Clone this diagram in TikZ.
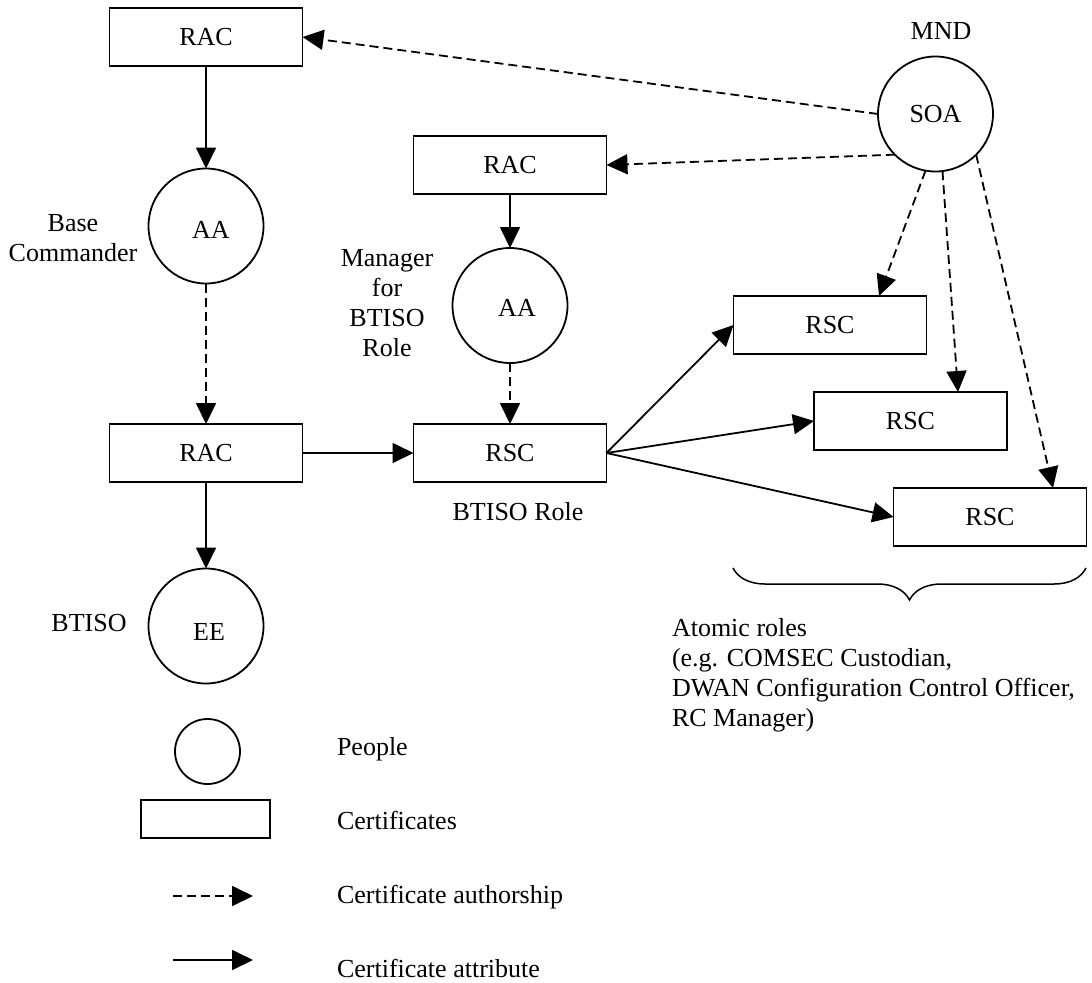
\documentclass[tikz,border=0pt]{standalone}
\usepackage{fontspec}
\setmainfont{Liberation Serif}
\usetikzlibrary{arrows.meta,decorations.pathreplacing}
\begin{document}
\begin{tikzpicture}[x=1bp,y=-1bp,
  every node/.style={font=\fontsize{26bp}{30bp}\selectfont, inner sep=0pt, outer sep=0pt},
  cert/.style={draw, line width=1.8bp, minimum width=193bp, minimum height=58bp},
  person/.style={draw, circle, line width=1.8bp, minimum size=115bp},
  attr/.style={line width=1.8bp, -{Triangle[length=21bp,width=20bp]}},
  auth/.style={attr, dash pattern=on 9bp off 5bp},
  lbl/.style={align=center}]
\useasboundingbox (0,0) rectangle (1092,983);

% left column
\node[cert] (rac1) at (206,37) {RAC};
\node[person, label={[xshift=5bp,yshift=-4bp]center:AA}] (aa1) at (206,226) {};
\node[cert] (rac3) at (206,453) {RAC};
\node[person, label={[xshift=3bp,yshift=-6bp]center:EE}] (ee) at (206,626) {};

% middle column
\node[cert] (rac2) at (510,165) {RAC};
\node[person, label={[xshift=7bp,yshift=-2.5bp]center:AA}] (aa2) at (510,305.5) {};
\node[cert] (rscb) at (510,453) {RSC};

% right
\node[person] (soa) at (935.5,114) {SOA};
\node[cert] (rsc1) at (830,325) {RSC};
\node[cert] (rsc2) at (910.5,421) {RSC};
\node[cert] (rsc3) at (990,517) {RSC};

% labels
\node (mnd) at (941,31) {MND};
\node[lbl, anchor=north] (basecmd) at (73,214) {Base\\Commander};
\node[lbl, anchor=north] (mgr) at (387,249) {Manager\\for\\BTISO\\Role};
\node (btiso) at (89,623) {BTISO};
\node (btisorole) at (518,512) {BTISO Role};
\node[align=left, anchor=north west] (atomic) at (672,618)
  {Atomic roles\\(e.g. COMSEC Custodian,\\DWAN Configuration Control Officer,\\RC Manager)};

% connectors
\draw[attr] (rac1.south) -- (aa1.north);
\draw[auth] (aa1.south) -- (rac3.north);
\draw[attr] (rac3.south) -- (ee.north);
\draw[attr] (rac3.east) -- (rscb.west);
\draw[attr] (rac2.south) -- (aa2.north);
\draw[auth] (aa2.south) -- (rscb.north);
\draw[auth] (soa.west) -- (rac1.east);
\draw[auth] (soa.225) -- (rac2.east);
\draw[auth] (soa.260) -- ([xshift=49bp]rsc1.north);
\draw[auth] (soa.277) -- ([xshift=47.5bp]rsc2.north);
\draw[auth] (soa.315) -- ([xshift=63bp]rsc3.north);
\draw[attr] (rscb.east) -- (rsc1.west);
\draw[attr] (rscb.east) -- (rsc2.west);
\draw[attr] (rscb.east) -- (rsc3.west);

% brace
\coordinate (bl) at (733,568);
\coordinate (br) at (1086,568);
\draw[decorate, decoration={brace, amplitude=32bp}, line width=1.5bp] (br) -- (bl);

% legend
\node[draw, circle, line width=1.8bp, minimum size=65bp] (legp) at (207.5,751.5) {};
\node[draw, line width=1.8bp, minimum width=129bp, minimum height=38bp] (legc) at (205.5,819) {};
\coordinate (la1) at (173,896);
\coordinate (la2) at (253,896);
\coordinate (lb1) at (173,960);
\coordinate (lb2) at (253,960);
\draw[auth] (la1) -- (la2);
\draw[attr] (lb1) -- (lb2);
\node[anchor=base west] (tp) at (337,755) {People};
\node[anchor=base west] (tc) at (337,829) {Certificates};
\node[anchor=base west] (tau) at (337,903) {Certificate authorship};
\node[anchor=base west] (tat) at (337,977) {Certificate attribute};
\end{tikzpicture}
\end{document}
